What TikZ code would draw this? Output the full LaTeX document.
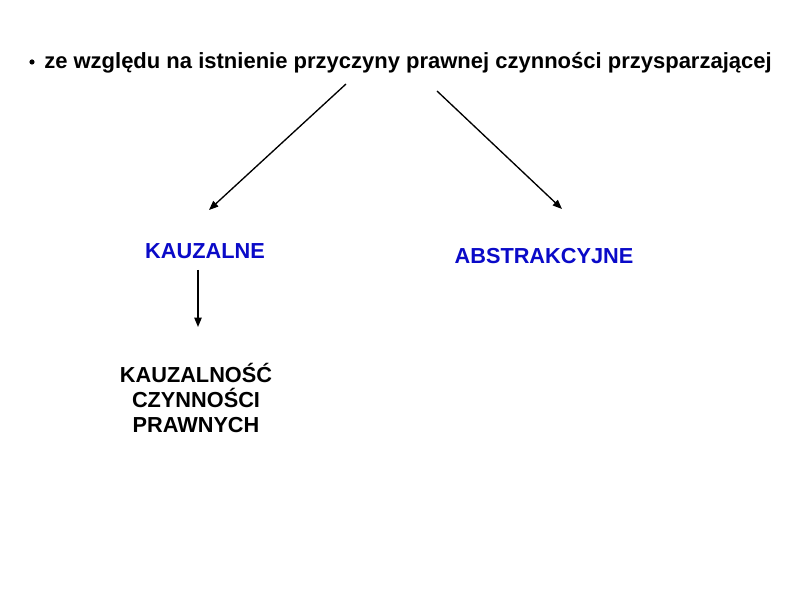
\documentclass[tikz,border=0pt]{standalone}
\usepackage{fontspec}
\setmainfont{Liberation Sans}
\usetikzlibrary{arrows.meta,positioning}
\definecolor{niebieski}{RGB}{10,10,200}
\tikzset{
  strzalka/.style={-{Triangle[length=7pt,width=5.5pt]}, line width=1pt},
  napis/.style={font=\fontsize{16.3}{18.5}\selectfont\bfseries, inner sep=0pt, align=center},
}
\begin{document}
\begin{tikzpicture}[x=0.75pt, y=-0.75pt]
  \useasboundingbox (0,0) rectangle (794,595);
  \fill (32,62) circle (2.6);
  \node [napis, font=\fontsize{16.5}{18}\selectfont\bfseries, anchor=base west] (tytul) at (44,69) {ze względu na istnienie przyczyny prawnej czynności przysparzającej};
  \node [napis, text=niebieski] (kauz) at (205,251) {KAUZALNE};
  \node [napis, text=niebieski] (abstr) at (544,256) {ABSTRAKCYJNE};
  \node [napis] (kauzcz) at (196,398) {KAUZALNOŚĆ\\CZYNNOŚCI\\PRAWNYCH};
  \coordinate (lewy) at (346,84);
  \coordinate (prawy) at (437,91);
  \coordinate (lewyk) at (209,210);
  \coordinate (prawyk) at (562,209);
  \draw [strzalka] (lewy) -- (lewyk);
  \draw [strzalka] (prawy) -- (prawyk);
  \draw [strzalka] (kauz.south -| 198,0) ++(0,11) -- (198,327);
\end{tikzpicture}
\end{document}
